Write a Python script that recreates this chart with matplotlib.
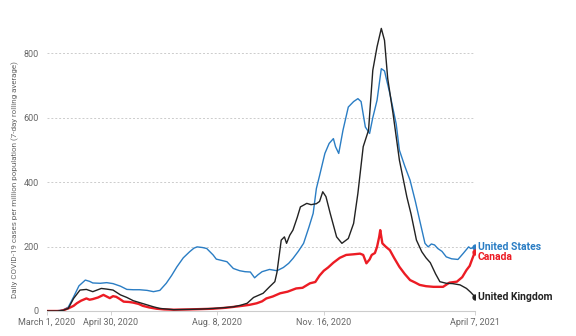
import numpy as np
import pandas as pd
import matplotlib
matplotlib.use("Agg")
import matplotlib.pyplot as plt

start = pd.Timestamp("2020-03-01")

# days since March 1, 2020 and 7-day avg cases per million
us_days = [0, 10, 15, 20, 25, 30, 36, 40, 43, 50, 56, 62, 69, 75, 81, 87, 94, 100, 106, 112,
           117, 122, 128, 134, 138, 141, 146, 150, 156, 159, 164, 169, 175, 181, 186, 191, 195,
           198, 202, 209, 216, 222, 227, 231, 236, 241, 246, 250, 253, 256, 261, 265, 269, 271,
           274, 278, 283, 288, 292, 295, 299, 303, 306, 310, 314, 317, 322, 328, 331, 336, 341,
           346, 350, 355, 358, 361, 364, 367, 371, 375, 380, 386, 391, 396, 398, 402]
us_vals = [0, 1, 3, 12, 44, 78, 96, 92, 87, 86, 88, 85, 77, 67, 66, 66, 64, 60, 64, 86,
           110, 137, 165, 184, 195, 199, 197, 194, 174, 161, 157, 153, 132, 125, 122, 121, 103,
           112, 122, 129, 125, 135, 148, 163, 185, 210, 260, 303, 380, 420, 489, 520, 535, 510,
           489, 561, 633, 650, 659, 650, 571, 551, 600, 654, 752, 745, 675, 580, 499, 450, 406,
           340, 282, 210, 199, 208, 205, 194, 185, 168, 162, 160, 179, 199, 194, 199]

uk_days = [0, 10, 15, 20, 25, 31, 37, 43, 51, 56, 62, 69, 75, 81, 87, 94, 100, 106, 119, 134,
           145, 156, 165, 175, 182, 188, 194, 203, 209, 214, 216, 218, 220, 223, 225, 228, 231,
           235, 238, 244, 248, 253, 256, 259, 262, 266, 272, 277, 283, 288, 292, 297, 302, 306,
           310, 314, 317, 320, 325, 331, 338, 342, 347, 352, 356, 360, 365, 369, 375, 381, 388,
           394, 398, 402]
uk_vals = [0, 0, 2, 8, 39, 65, 67, 60, 70, 68, 65, 50, 42, 32, 26, 19, 13, 8, 4, 5,
           6, 8, 10, 13, 18, 24, 42, 55, 75, 91, 120, 170, 220, 230, 210, 235, 251,
           290, 323, 334, 330, 333, 340, 370, 355, 303, 230, 210, 225, 272, 365, 510, 561, 747,
           820, 877, 840, 722, 613, 468, 354, 300, 220, 184, 165, 150, 115, 91, 86, 85, 81,
           70, 58, 44]

ca_days = [0, 12, 15, 20, 25, 28, 32, 37, 40, 43, 48, 53, 56, 59, 62, 65, 68, 72, 77, 81,
           86, 90, 96, 103, 110, 119, 134, 145, 156, 168, 181, 190, 197, 202, 206, 212, 219,
           226, 234, 240, 247, 252, 256, 260, 264, 269, 275, 281, 288, 294, 297, 300, 303, 305,
           308, 310, 312, 313, 315, 318, 322, 326, 331, 336, 341, 346, 350, 356, 363, 368, 372,
           378, 385, 390, 394, 397, 399, 402]
ca_vals = [0, 0, 2, 8, 16, 24, 32, 39, 35, 37, 42, 50, 45, 40, 46, 44, 38, 29, 28, 26,
           22, 16, 11, 7, 5, 4, 5, 6, 7, 10, 15, 19, 24, 30, 39, 45, 55,
           60, 70, 72, 86, 90, 110, 125, 135, 150, 165, 174, 176, 178, 174, 148, 160, 174,
           180, 199, 230, 251, 210, 200, 189, 165, 137, 115, 96, 88, 81, 77, 75, 75, 75,
           88, 91, 105, 127, 140, 158, 184]

tick_dates = ["2020-03-01", "2020-04-30", "2020-08-08", "2020-11-16", "2021-04-07"]
tick_labels = ["March 1, 2020", "April 30, 2020", "Aug. 8, 2020", "Nov. 16, 2020", "April 7, 2021"]

series = [
    ("United States", us_days, us_vals, "#2a7dc4", 1.0, 0),
    ("Canada", ca_days, ca_vals, "#ec1c24", 1.7, -4),
    ("United Kingdom", uk_days, uk_vals, "#222222", 1.0, 0),
]

narrow = ["Liberation Sans Narrow", "Roboto", "DejaVu Sans"]

fig = plt.figure(figsize=(5.76, 3.36), dpi=100)
ax = fig.add_axes([47 / 576, 25 / 336, 428 / 576, 290 / 336])

for name, d, v, col, lw, dy in series:
    x = start + pd.to_timedelta(d, unit="D")
    ax.plot(x, v, color=col, lw=lw, zorder=3)
    ax.plot(x[-1], v[-1], "o", color=col, ms=3.5, zorder=4)
    ax.annotate(name, (x[-1], v[-1]), xytext=(2, dy), textcoords="offset points",
                va="center", ha="left", color=col, fontsize=7.5, fontweight="bold",
                family=narrow, annotation_clip=False)

ax.set_xlim(start, pd.Timestamp("2021-04-07"))
ax.set_ylim(0, 900)
ax.set_yticks([0, 200, 400, 600, 800])
ax.set_xticks(pd.to_datetime(tick_dates))
ax.set_xticklabels(tick_labels)

for y in [200, 400, 600, 800]:
    ax.axhline(y, color="#cccccc", lw=0.7, ls=(0, (2, 2)), zorder=1)

for s in ["top", "right", "left"]:
    ax.spines[s].set_visible(False)
ax.spines["bottom"].set_color("#cccccc")
ax.spines["bottom"].set_linewidth(0.8)

ax.tick_params(axis="y", length=0, pad=6, labelsize=6.5, labelcolor="#666666")
ax.tick_params(axis="x", length=3, width=0.6, color="#cccccc", pad=2,
               labelsize=6.5, labelcolor="#666666")
for lab in ax.get_xticklabels() + ax.get_yticklabels():
    lab.set_family(narrow)

fig.text(15 / 576, 0.465, "Daily COVID-19 cases per million population (7-day rolling average)",
         rotation=90, va="center", ha="center", fontsize=5.8, color="#666666", family=narrow)

fig.savefig("out.png", dpi=100)
